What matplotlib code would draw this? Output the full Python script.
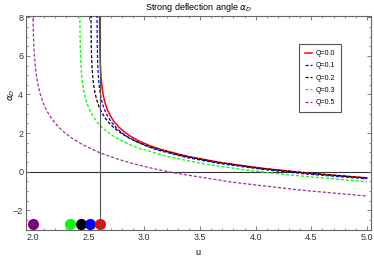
import matplotlib
matplotlib.use('Agg')
import matplotlib.pyplot as plt

plt.rcParams['font.family'] = ['Liberation Sans', 'DejaVu Sans']
plt.rcParams['mathtext.fontset'] = 'dejavusans'

# curves: u and alpha_D for each Q
u_q00 = [2.5985, 2.599, 2.600, 2.602, 2.604, 2.608, 2.613, 2.623, 2.633, 2.648, 2.668, 2.698,
         2.728, 2.768, 2.818, 2.878, 2.948, 3.048, 3.148, 3.398, 3.698, 4.098, 4.498, 5.0]
a_q00 = [8.16, 7.46, 6.77, 6.08, 5.67, 5.16, 4.75, 4.24, 3.91, 3.55, 3.21, 2.86,
         2.59, 2.33, 2.07, 1.83, 1.60, 1.35, 1.15, 0.78, 0.46, 0.15, -0.09, -0.32]

u_q01 = [2.5755, 2.576, 2.577, 2.579, 2.581, 2.585, 2.590, 2.600, 2.610, 2.625, 2.645, 2.675,
         2.705, 2.745, 2.795, 2.855, 2.925, 3.025, 3.125, 3.375, 3.675, 4.075, 4.475, 5.0]
a_q01 = [8.12, 7.42, 6.73, 6.04, 5.63, 5.12, 4.72, 4.20, 3.87, 3.51, 3.17, 2.82,
         2.56, 2.29, 2.03, 1.79, 1.57, 1.31, 1.11, 0.74, 0.42, 0.11, -0.13, -0.37]

u_q02 = [2.5208, 2.5215, 2.523, 2.525, 2.528, 2.532, 2.538, 2.545, 2.555, 2.570, 2.590, 2.620,
         2.650, 2.690, 2.740, 2.800, 2.870, 2.970, 3.070, 3.320, 3.620, 4.020, 4.420, 5.0]
a_q02 = [8.11, 7.45, 6.72, 6.18, 5.69, 5.26, 4.84, 4.49, 4.14, 3.77, 3.41, 3.04,
         2.76, 2.48, 2.21, 1.96, 1.72, 1.46, 1.25, 0.85, 0.52, 0.19, -0.05, -0.33]

u_q03 = [2.421, 2.422, 2.424, 2.427, 2.431, 2.436, 2.445, 2.455, 2.470, 2.490, 2.520, 2.550,
         2.590, 2.640, 2.700, 2.770, 2.870, 2.970, 3.220, 3.520, 3.920, 4.320, 5.0]
a_q03 = [8.12, 7.36, 6.60, 5.98, 5.48, 5.07, 4.58, 4.21, 3.82, 3.45, 3.06, 2.77,
         2.47, 2.19, 1.92, 1.68, 1.40, 1.18, 0.77, 0.42, 0.08, -0.18, -0.52]

u_q05 = [1.9995, 2.001, 2.004, 2.008, 2.014, 2.021, 2.031, 2.046, 2.066, 2.096, 2.126, 2.166,
         2.216, 2.276, 2.346, 2.446, 2.596, 2.746, 2.896, 3.096, 3.296, 3.796, 4.396, 5.0]
a_q05 = [8.19, 7.69, 7.04, 6.47, 5.90, 5.44, 4.97, 4.47, 4.00, 3.50, 3.13, 2.76,
         2.40, 2.06, 1.75, 1.40, 0.99, 0.68, 0.42, 0.14, -0.09, -0.55, -0.95, -1.26]

# dots near the bottom
dot_u = [2.0, 2.336, 2.435, 2.516, 2.60]
dot_y = [-2.71, -2.71, -2.71, -2.71, -2.71]
dot_colors = ['#800080', '#00ff00', 'black', '#0000ff', '#ff0000']

u_photon = 2.598

fig = plt.figure(figsize=(3.74, 2.56), dpi=100)
ax = fig.add_axes([0.0695, 0.1016, 0.9215, 0.8371])

ax.axhline(0, color='#333333', lw=0.8, zorder=1)
ax.axvline(u_photon, color='#555555', lw=0.8, zorder=6)

dash = (0, (2.5, 1.5))
ax.plot(u_q00, a_q00, color='#ff0000', lw=1.1, label='Q=0.0', zorder=3)
ax.plot(u_q01, a_q01, color='#0000ff', lw=0.9, ls=dash, label='Q=0.1', zorder=3)
ax.plot(u_q02, a_q02, color='black', lw=0.9, ls=dash, label='Q=0.2', zorder=3)
ax.plot(u_q03, a_q03, color='#00ff00', lw=0.9, ls=dash, label='Q=0.3', zorder=3)
ax.plot(u_q05, a_q05, color='#993399', lw=0.9, ls=dash, label='Q=0.5', zorder=3)

for x, y, c in zip(dot_u, dot_y, dot_colors):
    ax.plot(x, y, 'o', color=c, ms=8, mec='none', zorder=5)

ax.set_xlim(1.937, 5.033)
ax.set_ylim(-3.02, 8.08)

ax.set_xticks([2.0, 2.5, 3.0, 3.5, 4.0, 4.5, 5.0])
ax.set_xticks([x / 10 for x in range(20, 51)], minor=True)
ax.set_yticks([-2, 0, 2, 4, 6, 8])
ax.set_yticks([y / 2 for y in range(-6, 17)], minor=True)
ax.tick_params(which='both', direction='in', top=True, right=True, color='#666666',
               labelsize=6.5, labelcolor='#333333', pad=2)
ax.tick_params(which='major', length=3, width=0.6)
ax.tick_params(which='minor', length=1.5, width=0.5)
for s in ax.spines.values():
    s.set_color('#666666')
    s.set_linewidth(0.8)

ax.set_title(r'Strong deflection angle $\alpha_D$', fontsize=6.5, pad=4)
ax.set_xlabel('u', fontsize=6.5)
ax.xaxis.set_label_coords(0.5, -0.085)
ax.set_ylabel(r'$\alpha_D$', fontsize=6.5)
ax.yaxis.set_label_coords(-0.025, 0.63)

leg = ax.legend(loc='upper left', bbox_to_anchor=(0.792, 0.868), borderaxespad=0,
                fontsize=5, handlelength=1.0, handletextpad=0.5, labelspacing=0.75,
                borderpad=0.9, fancybox=False, framealpha=1, edgecolor='#555555')
leg.get_frame().set_linewidth(0.8)

fig.savefig('out.png', dpi=100)
